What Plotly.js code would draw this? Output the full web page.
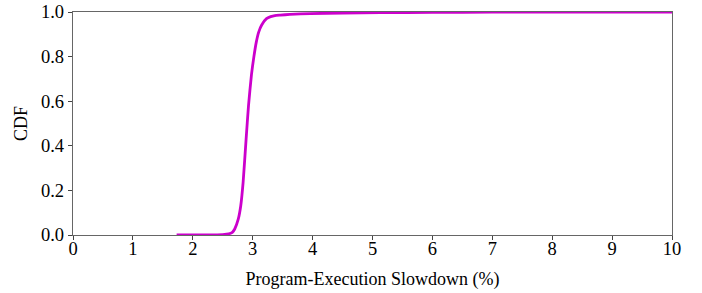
<!DOCTYPE html>
<html>
<head>
<meta charset="utf-8">
<script src="https://cdn.plot.ly/plotly-3.0.1.min.js"></script>
<style>html,body{margin:0;padding:0;background:#fff;}#chart{width:702px;height:293px;}</style>
</head>
<body>
<div id="chart"></div>
<script>
const slowdown = [1.73, 2.2, 2.5, 2.6, 2.66, 2.70, 2.76, 2.80, 2.84, 2.89, 2.93, 2.98, 3.02, 3.06, 3.10, 3.15, 3.23, 3.30, 3.37, 3.46, 3.62, 3.96, 4.5, 5.13, 6.0, 7.0, 8.0, 9.0, 10.0];
const cdf      = [0.0, 0.0005, 0.002, 0.005, 0.012, 0.027, 0.072, 0.13, 0.236, 0.43, 0.58, 0.72, 0.80, 0.865, 0.91, 0.942, 0.97, 0.979, 0.984, 0.986, 0.989, 0.993, 0.995, 0.997, 0.998, 0.999, 0.9995, 1.0, 1.0];
const xTicks = [0,1,2,3,4,5,6,7,8,9,10];
const yTicks = [0,0.2,0.4,0.6,0.8,1.0];
const yTickText = ["0.0","0.2","0.4","0.6","0.8","1.0"];

const tickFont = {family: "Liberation Serif, Times New Roman, serif", size: 18.5, color: "#000"};
const titleFont = {family: "Liberation Serif, Times New Roman, serif", size: 18, color: "#000"};
const axisCommon = {
  showgrid: false, zeroline: false, showline: true, linecolor: "#666", linewidth: 1.3,
  mirror: true, ticks: "outside", ticklen: 4, tickcolor: "#444", tickwidth: 1,
  tickfont: tickFont
};
Plotly.newPlot("chart", [{
  x: slowdown, y: cdf, mode: "lines", type: "scatter",
  line: {color: "#cc00cc", width: 2.8, shape: "spline", smoothing: 0.5},
  hoverinfo: "skip"
}], {
  width: 702, height: 293,
  margin: {l: 73, r: 30, t: 12, b: 58},
  paper_bgcolor: "#fff", plot_bgcolor: "#fff",
  showlegend: false,
  font: tickFont,
  xaxis: Object.assign({}, axisCommon, {
    range: [0, 10], tickvals: xTicks, ticklabelstandoff: -8,
    title: {text: "Program-Execution Slowdown (%)", font: titleFont, standoff: 15}
  }),
  yaxis: Object.assign({}, axisCommon, {
    range: [0, 1.0], tickvals: yTicks, ticktext: yTickText,
    title: {text: "CDF", font: titleFont, standoff: 8}
  })
}, {staticPlot: true});
</script>
</body>
</html>
